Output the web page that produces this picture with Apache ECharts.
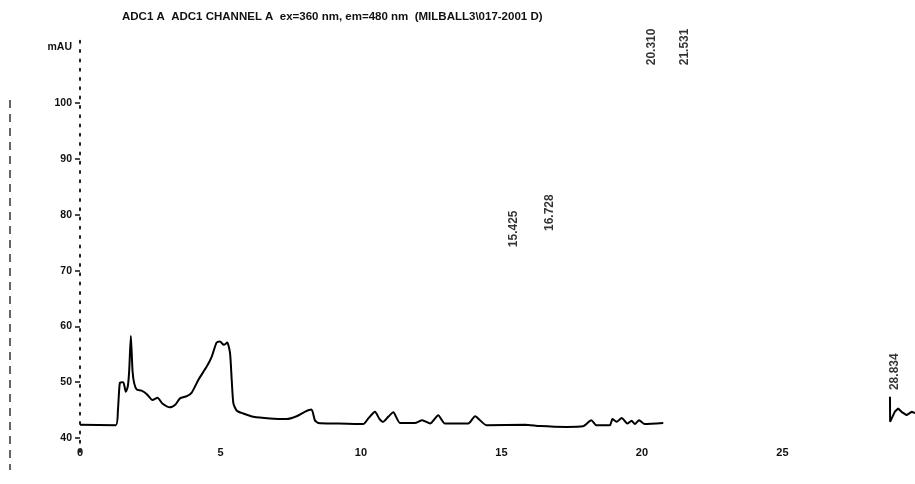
<!DOCTYPE html>
<html>
<head>
<meta charset="utf-8">
<script src="https://cdn.jsdelivr.net/npm/echarts@6/dist/echarts.min.js"></script>
<style>html,body{margin:0;padding:0;background:#fff}#c{width:915px;height:484px}</style>
</head>
<body>
<div id="c"></div>
<script>
// Retention time (min) and signal (mAU), main trace
var traceTime = [0, 1.27, 1.35, 1.42, 1.54, 1.63, 1.7, 1.75, 1.81, 1.87, 1.93, 2.02, 2.19, 2.37, 2.58, 2.76, 2.93, 3.2, 3.38, 3.56, 3.8, 3.97, 4.21, 4.51, 4.69, 4.86, 4.98, 5.12, 5.24, 5.34, 5.40, 5.46, 5.58, 5.81, 6.17, 6.76, 7.35, 7.71, 8.0, 8.24, 8.36, 8.48, 9.13, 10.08, 10.26, 10.5, 10.65, 10.79, 10.97, 11.15, 11.39, 11.92, 12.18, 12.46, 12.75, 12.99, 13.82, 14.06, 14.47, 15.84, 16.37, 17.32, 17.9, 18.2, 18.38, 18.86, 18.95, 19.1, 19.28, 19.48, 19.63, 19.75, 19.9, 20.1, 20.76];
var traceValue = [42.4, 42.3, 45, 49.9, 50.0, 48.3, 49.2, 52, 58.3, 52, 49.8, 48.7, 48.5, 47.9, 46.8, 47.2, 46.2, 45.5, 45.9, 47.1, 47.5, 48.1, 50.4, 52.8, 54.6, 57.1, 57.3, 56.7, 57.1, 55.2, 50.4, 46.2, 44.9, 44.4, 43.8, 43.5, 43.4, 43.9, 44.7, 45.1, 43.2, 42.7, 42.6, 42.5, 43.5, 44.7, 43.5, 42.9, 43.8, 44.6, 42.7, 42.7, 43.2, 42.6, 44.1, 42.6, 42.6, 43.9, 42.3, 42.4, 42.15, 42.0, 42.1, 43.2, 42.3, 42.3, 43.4, 42.9, 43.6, 42.6, 43.1, 42.5, 43.2, 42.5, 42.7];
// Second trace fragment at the right edge
var trace2Time = [28.83, 28.834, 29.0, 29.12, 29.24, 29.42, 29.6, 29.72];
var trace2Value = [47.4, 42.9, 44.7, 45.3, 44.7, 44.1, 44.7, 44.5];
// Peak retention-time annotations
var peakLabels = ['15.425', '16.728', '20.310', '21.531', '28.834'];
var peakTime = [15.425, 16.728, 20.36, 21.53, 29.0];
var peakLabelBase = [74.2, 77.1, 106.8, 106.8, 48.6];
// Axis ticks
var xTicks = [0, 5, 10, 15, 20, 25];
var yTicks = [40, 50, 60, 70, 80, 90, 100, 110];
var titleText = 'ADC1 A  ADC1 CHANNEL A  ex=360 nm, em=480 nm  (MILBALL3\\017-2001 D)';

var chart = echarts.init(document.getElementById('c'), null, {renderer: 'canvas'});
var fontFam = 'Liberation Sans, Arial, sans-serif';
function pairs(a, b) { return a.map(function (t, i) { return [t, b[i]]; }); }
chart.setOption({
  backgroundColor: '#fff',
  animation: false,
  title: {
    text: titleText, left: 117, top: 6,
    textStyle: {fontFamily: fontFam, fontSize: 11.5, fontWeight: 'bold', color: '#111'}
  },
  grid: {left: 80, right: 0, top: 38, bottom: 32, containLabel: false},
  xAxis: {
    type: 'value', min: 0, max: 29.72,
    axisLine: {show: false}, splitLine: {show: false},
    axisTick: {show: false},
    axisLabel: {customValues: xTicks, margin: -5, color: '#111', fontFamily: fontFam, fontSize: 11, fontWeight: 'bold'}
  },
  yAxis: {
    type: 'value', min: 37.5, max: 111.68,
    splitLine: {show: false},
    axisLine: {show: true, lineStyle: {color: '#222', width: 2, type: [2, 7.3]}},
    axisTick: {show: true, customValues: yTicks.slice(0, 7), length: 5, lineStyle: {color: '#111', width: 1.5}},
    axisLabel: {
      customValues: yTicks, margin: 8, color: '#111', fontFamily: fontFam, fontSize: 10.5, fontWeight: 'bold',
      formatter: function (v) { return v === 110 ? 'mAU' : String(v); }
    }
  },
  series: [
    {type: 'line', data: pairs(traceTime, traceValue), showSymbol: false, smooth: 0.2,
     lineStyle: {color: '#000', width: 2}},
    {type: 'line', data: pairs(trace2Time, trace2Value), showSymbol: false,
     lineStyle: {color: '#000', width: 2}},
    {type: 'scatter', symbolSize: 0, data: peakLabels.map(function (l, i) { return {value: [peakTime[i], peakLabelBase[i]], name: l}; }),
     label: {show: true, position: [0, 0], rotate: 90, align: 'left', verticalAlign: 'middle',
       formatter: function (p) { return p.name; }, color: '#000', fontFamily: fontFam, fontSize: 12, fontWeight: 'bold'}}
  ],
  graphic: [
    {type: 'line', shape: {x1: 10, y1: 100, x2: 10, y2: 470}, style: {stroke: '#333', lineWidth: 1.5, lineDash: [8, 6]}}
  ]
});
</script>
</body>
</html>
